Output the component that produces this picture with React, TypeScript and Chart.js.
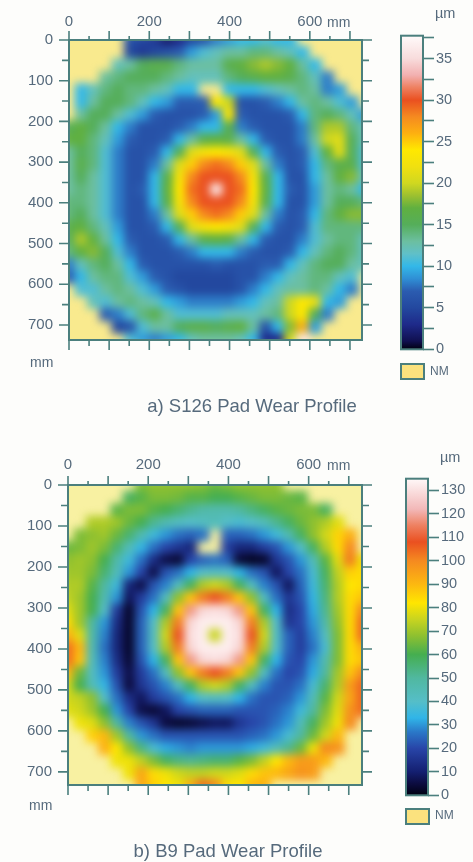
import React, { useEffect, useRef } from "react";
import { Chart, registerables } from "chart.js";

Chart.register(...registerables);

const _ = null;

// S126 wear in um per grid cell; null = not measured
const wearS126: (number | null)[][] = [
  [_,_,_,_,_,6,5,4,2,3,5,6,8,9,10,10,11,10,10,_,_,_,_,_,_],
  [_,_,_,_,_,5,4,5,6,7,9,11,12,13,13,14,14,13,12,10,_,_,_,_,_],
  [_,_,_,_,12,13,15,16,16,14,13,13,13,16,17,18,19,18,17,13,10,_,_,_,_],
  [_,_,_,13,14,15,15,15,14,13,12,12,12,14,15,16,17,17,16,14,12,8,_,_,_],
  [_,10,12,14,15,14,14,13,12,10,10,_,_,10,10,10,11,12,13,14,13,8,9,_,_],
  [_,10,13,15,15,14,12,10,9,7,7,7,24,20,6,6,7,8,10,13,14,13,11,9,_],
  [_,13,15,15,13,11,9,7,6,6,6,7,9,24,7,6,6,6,7,10,14,15,14,12,9],
  [15,17,15,13,10,8,6,6,6,7,8,10,10,16,8,7,6,6,6,8,14,19,19,14,12],
  [17,17,14,12,9,7,6,6,7,10,13,16,17,16,13,10,7,6,6,8,13,20,21,15,12],
  [13,15,14,11,8,6,6,7,10,15,21,23,24,23,21,15,10,7,6,7,11,17,21,15,11],
  [13,16,14,11,8,6,6,8,13,21,25,28,29,28,25,21,13,8,6,7,10,14,16,16,11],
  [13,15,13,11,8,6,6,10,16,23,28,30,30,30,28,23,16,10,6,6,10,13,17,18,12],
  [13,14,13,11,8,6,7,10,17,24,29,30,36,30,29,24,17,10,7,6,9,13,14,13,10],
  [14,14,13,11,8,6,6,10,16,23,28,30,30,30,28,23,16,10,6,6,9,13,15,15,14],
  [14,15,13,11,8,6,6,8,13,21,25,28,29,28,25,21,13,8,6,7,10,14,17,18,18],
  [16,17,14,12,9,6,6,7,10,15,21,23,24,23,21,15,10,7,6,7,11,14,14,14,14],
  [15,19,17,13,10,7,6,6,7,10,13,16,17,16,13,10,7,6,6,8,11,13,14,14,12],
  [14,17,18,15,11,8,6,6,6,7,8,10,10,10,8,7,6,6,7,10,12,14,15,14,12],
  [8,12,14,15,13,10,7,6,6,6,6,6,7,6,6,6,7,7,10,12,14,15,15,13,12],
  [7,10,13,14,14,11,9,7,6,5,5,5,5,5,6,6,8,10,12,13,14,14,12,11,_],
  [_,11,11,13,14,13,11,9,7,6,5,5,5,5,6,8,10,12,13,13,14,13,10,8,_],
  [_,_,12,11,13,14,13,12,10,9,8,8,8,8,9,10,12,13,20,24,22,10,9,_,_],
  [_,_,_,7,8,11,14,16,13,11,11,11,11,12,12,12,13,14,20,24,15,8,_,_,_],
  [_,_,_,_,5,6,11,13,13,15,16,16,15,16,17,13,6,10,18,26,9,_,_,_,_],
  [_,_,_,_,_,11,9,8,9,10,12,13,13,13,12,10,3,3,20,36,_,_,_,_,_],
];

// B9 wear in um per grid cell; null = not measured
const wearB9: (number | null)[][] = [
  [_,_,_,_,_,_,66,68,68,68,68,67,64,66,68,68,68,68,_,_,_,_,_,_,_],
  [_,_,_,_,_,58,62,66,66,65,62,62,60,60,62,64,66,66,64,62,_,_,_,_,_],
  [_,_,_,_,62,66,66,62,60,56,52,48,47,47,50,54,58,62,64,66,66,58,_,_,_],
  [_,_,72,72,70,64,60,52,46,42,40,42,44,40,38,40,44,52,58,64,68,72,78,_,_],
  [_,66,68,70,64,56,46,36,30,26,24,26,_,24,24,26,30,36,46,58,68,76,85,92,_],
  [64,66,70,66,56,44,34,26,20,16,12,_,_,18,12,12,18,22,30,40,58,72,84,100,_],
  [68,70,68,60,48,36,26,14,6,4,20,24,26,24,4,2,3,16,22,30,44,62,78,102,80],
  [70,70,66,56,44,30,20,6,22,26,33,40,42,40,33,26,22,8,20,26,38,58,74,86,84],
  [72,72,62,50,36,12,6,22,28,42,58,72,76,72,58,42,28,22,8,24,36,56,72,82,84],
  [74,70,60,46,30,8,18,26,42,68,88,102,108,102,88,68,42,26,16,22,34,54,72,84,88],
  [78,70,60,40,18,3,22,33,58,88,118,128,130,128,118,88,58,33,14,20,32,52,70,84,100],
  [84,70,50,30,14,3,24,40,72,102,128,133,133,133,128,102,72,40,16,20,30,48,68,84,104],
  [92,78,48,28,12,3,24,42,76,108,130,133,75,133,130,108,76,42,24,18,28,42,66,84,104],
  [104,90,46,26,12,3,24,40,72,102,128,133,133,133,128,102,72,40,24,18,26,38,66,84,92],
  [104,88,44,28,14,4,22,33,58,88,118,128,130,128,118,88,58,33,22,20,30,46,66,84,88],
  [90,64,42,30,18,6,18,26,42,68,88,102,108,102,88,68,42,26,20,22,32,50,70,88,100],
  [76,60,44,34,22,5,16,22,28,42,58,72,76,72,58,42,28,22,22,26,38,56,72,96,105],
  [76,74,68,40,26,14,8,18,22,26,33,40,42,40,33,26,22,22,24,30,44,62,76,94,105],
  [78,76,70,60,30,20,6,4,8,20,22,24,24,24,22,22,22,24,28,36,50,66,78,98,104],
  [_,80,78,68,50,28,22,16,5,3,4,6,8,8,16,20,22,26,30,44,58,70,80,100,_],
  [_,_,86,90,70,50,30,26,22,22,22,22,22,22,22,24,26,30,38,50,64,76,90,_,_],
  [_,_,_,92,82,68,54,38,32,30,28,30,30,30,30,32,36,44,52,64,80,100,98,_,_],
  [_,_,_,_,80,80,74,66,58,54,52,54,56,56,62,66,74,82,90,96,96,90,_,_,_],
  [_,_,_,_,_,80,94,84,80,76,74,74,76,76,78,84,88,90,94,98,96,_,_,_,_],
  [_,_,_,_,_,_,94,86,82,80,92,104,100,84,82,90,92,_,_,_,_,_,_,_,_],
];

const rampS126: [number, string][] = [
  [0, "#000010"], [1, "#101050"], [3, "#1e2a8a"], [5, "#23489f"], [7, "#2b5cb0"], [8.5, "#2f8fd5"],
  [10, "#33b8e8"], [11.5, "#60c0c8"], [13, "#6cbfa0"], [15, "#55ae5a"], [17, "#60b040"], [18.5, "#9cc030"],
  [20, "#d0d820"], [22, "#f0e010"], [24, "#ffe800"], [26, "#fdb010"], [28, "#f58a20"], [30, "#ea5020"],
  [31.5, "#ee8060"], [33, "#f2b0b0"], [35, "#f8dcdc"], [37.75, "#fffafa"],
];

const rampB9: [number, string][] = [
  [0, "#000010"], [5, "#0c0c40"], [10, "#141f70"], [20, "#2845a8"], [27, "#2a78c8"], [33, "#30b5e8"],
  [40, "#55bec8"], [50, "#50b8a0"], [60, "#45ae50"], [68, "#8ec030"], [75, "#c8d420"], [82, "#ffe600"],
  [90, "#fcb810"], [100, "#f58a20"], [108, "#ea5020"], [115, "#ee8060"], [122, "#f2b8b8"], [135, "#fff8f8"],
];

const FONT = "'Liberation Sans', Arial, sans-serif";
const INK = "#566a7c";
const FRAME = "#4b7f7d";

function hex(c: string) {
  return [1, 3, 5].map((i) => parseInt(c.slice(i, i + 2), 16));
}

function colourAt(ramp: [number, string][], v: number) {
  for (let i = 1; i < ramp.length; i++) {
    if (v <= ramp[i][0]) {
      const [a, ca] = ramp[i - 1];
      const [b, cb] = ramp[i];
      const t = (v - a) / (b - a);
      const p = hex(ca);
      const q = hex(cb);
      return `rgb(${p.map((n, k) => Math.round(n + (q[k] - n) * t)).join(",")})`;
    }
  }
  return ramp[ramp.length - 1][1];
}

const frameTicks = {
  id: "frameTicks",
  afterDraw(chart: any) {
    const { ctx, chartArea: a, scales } = chart;
    ctx.save();
    ctx.strokeStyle = FRAME;
    ctx.lineWidth = 2;
    ctx.strokeRect(a.left, a.top, a.right - a.left, a.bottom - a.top);
    ctx.lineWidth = 1.6;
    ctx.beginPath();
    for (let v = 0; v <= scales.x.max; v += 50) {
      const major = v % 100 === 0;
      const p = scales.x.getPixelForValue(v);
      ctx.moveTo(p, a.top);
      ctx.lineTo(p, a.top - (major ? 9 : 4));
      ctx.moveTo(p, a.bottom);
      ctx.lineTo(p, a.bottom + (major ? 10 : 6));
    }
    for (let v = 0; v <= scales.y.max; v += 50) {
      const major = v % 100 === 0;
      const p = scales.y.getPixelForValue(v);
      ctx.moveTo(a.left, p);
      ctx.lineTo(a.left - (major ? 10 : 7), p);
      ctx.moveTo(a.right, p);
      ctx.lineTo(a.right + (major ? 10 : 7), p);
    }
    ctx.stroke();
    ctx.restore();
  },
};

const barFrame = {
  id: "barFrame",
  afterDraw(chart: any) {
    const { ctx, chartArea: a } = chart;
    ctx.save();
    ctx.strokeStyle = FRAME;
    ctx.lineWidth = 2;
    ctx.strokeRect(a.left, a.top, a.right - a.left, a.bottom - a.top);
    ctx.restore();
  },
};

type PanelSpec = {
  grid: (number | null)[][];
  ramp: [number, string][];
  cellMm: number;
  left: number; right: number; top: number; bottom: number;
  xMax: number; yMax: number;
  nm: string;
  barLeft: number; barRight: number; barTop: number; barBottom: number;
  scaleMax: number; scaleStep: number; labelEvery: number;
  topLabelPad: number;
  title: string; titleX: number; titleY: number;
  topMmY: number; botMmX: number; botMmY: number;
  umX: number; umY: number;
  boxX: number; boxY: number; nmX: number; nmY: number;
};

const panels: PanelSpec[] = [
  {
    grid: wearS126, ramp: rampS126, cellMm: 30.67,
    left: 69, right: 362, top: 40, bottom: 340, xMax: 730, yMax: 737, nm: "#f9ea8e",
    barLeft: 401, barRight: 423, barTop: 32, barBottom: 350,
    scaleMax: 37.75, scaleStep: 2.5, labelEvery: 5, topLabelPad: 9,
    title: "a) S126 Pad Wear Profile", titleX: 252, titleY: 406,
    topMmY: 22, botMmX: 30, botMmY: 362, umX: 435, umY: 13,
    boxX: 400, boxY: 363, nmX: 430, nmY: 371,
  },
  {
    grid: wearB9, ramp: rampB9, cellMm: 30.6,
    left: 68, right: 362, top: 485, bottom: 785, xMax: 733, yMax: 732, nm: "#f8f1a2",
    barLeft: 406, barRight: 428, barTop: 475, barBottom: 796,
    scaleMax: 135, scaleStep: 10, labelEvery: 10, topLabelPad: 11,
    title: "b) B9 Pad Wear Profile", titleX: 228, titleY: 851,
    topMmY: 465, botMmX: 29, botMmY: 805, umX: 440, umY: 457,
    boxX: 405, boxY: 808, nmX: 435, nmY: 815,
  },
];

const PAGE_W = 473;
const PAGE_H = 862;
const BLEED = 14;
const MM_TICKS = [0, 100, 200, 300, 400, 500, 600, 700];

function Label({ x, y, text, size = 14, center = false }: { x: number; y: number; text: string; size?: number; center?: boolean }) {
  return (
    <div
      style={{
        position: "absolute",
        left: x,
        top: y,
        transform: center ? "translate(-50%,-50%)" : "translateY(-50%)",
        font: `${size}px ${FONT}`,
        color: INK,
        whiteSpace: "pre",
        filter: "blur(0.7px)",
        lineHeight: 1,
      }}
    >
      {text}
    </div>
  );
}

function Panel({ spec }: { spec: PanelSpec }) {
  const heatRef = useRef<HTMLCanvasElement>(null);
  const axesRef = useRef<HTMLCanvasElement>(null);
  const barRef = useRef<HTMLCanvasElement>(null);

  useEffect(() => {
    const points: { x: number; y: number; v: number }[] = [];
    spec.grid.forEach((row, r) =>
      row.forEach((v, c) => {
        if (v !== null) points.push({ x: c * spec.cellMm, y: r * spec.cellMm, v });
      })
    );

    const heat = new Chart(heatRef.current!, {
      type: "scatter",
      data: {
        datasets: [
          {
            data: points as any,
            clip: false as any,
            pointStyle: "rect",
            pointBorderWidth: 0,
            pointBackgroundColor: (c: any) => (c.raw ? colourAt(spec.ramp, c.raw.v) : "transparent"),
            pointRadius: (c: any) => {
              const s = c.chart.scales;
              const side = Math.max(
                Math.abs(s.x.getPixelForValue(spec.cellMm) - s.x.getPixelForValue(0)),
                Math.abs(s.y.getPixelForValue(spec.cellMm) - s.y.getPixelForValue(0))
              );
              return Number.isFinite(side) ? (side + 0.8) * Math.SQRT1_2 : 8;
            },
          } as any,
        ],
      },
      options: {
        animation: false,
        responsive: false,
        events: [],
        layout: { padding: BLEED },
        plugins: { legend: { display: false }, tooltip: { enabled: false } },
        scales: {
          x: { display: false, type: "linear", min: 0, max: spec.xMax },
          y: { display: false, type: "linear", min: 0, max: spec.yMax, reverse: true },
        },
      },
    });

    const tickFont = { family: FONT, size: 15 };
    const mmTicks = (s: any) => { s.ticks = MM_TICKS.map((value) => ({ value })); };
    const axes = new Chart(axesRef.current!, {
      type: "scatter",
      data: { datasets: [{ data: [] }] },
      options: {
        animation: false,
        responsive: false,
        events: [],
        layout: { padding: { left: 0, top: 0, right: PAGE_W - spec.right, bottom: PAGE_H - spec.bottom } },
        plugins: { legend: { display: false }, tooltip: { enabled: false } },
        scales: {
          x: {
            type: "linear",
            position: "top",
            min: 0,
            max: spec.xMax,
            afterBuildTicks: mmTicks,
            afterFit: (s: any) => { s.height = spec.top; },
            grid: { display: false, drawTicks: false },
            border: { display: false },
            ticks: {
              autoSkip: false,
              maxRotation: 0,
              padding: spec.topLabelPad,
              color: INK,
              font: tickFont,
              callback: (v: any) => (v % 200 === 0 ? String(v) : ""),
            },
          },
          y: {
            type: "linear",
            min: 0,
            max: spec.yMax,
            reverse: true,
            afterBuildTicks: mmTicks,
            afterFit: (s: any) => { s.width = spec.left; },
            grid: { display: false, drawTicks: false },
            border: { display: false },
            ticks: {
              autoSkip: false,
              padding: 16,
              color: INK,
              font: tickFont,
              callback: (v: any) => String(v),
            },
          },
        },
      },
      plugins: [frameTicks],
    });

    const bar = new Chart(barRef.current!, {
      type: "bar",
      data: {
        labels: ["wear"],
        datasets: [
          {
            data: [[0, spec.scaleMax]] as any,
            barPercentage: 1,
            categoryPercentage: 1,
            backgroundColor: (c: any) => {
              const y = c.chart.scales.y;
              const p0 = y ? y.getPixelForValue(0) : NaN;
              const p1 = y ? y.getPixelForValue(spec.scaleMax) : NaN;
              if (!Number.isFinite(p0) || !Number.isFinite(p1)) return "#888888";
              const g = c.chart.ctx.createLinearGradient(0, p0, 0, p1);
              spec.ramp.forEach(([v, col]) => g.addColorStop(Math.min(1, v / spec.scaleMax), col));
              return g;
            },
          } as any,
        ],
      },
      options: {
        animation: false,
        responsive: false,
        events: [],
        layout: { padding: { left: 6, top: 7, bottom: 10, right: 0 } },
        plugins: { legend: { display: false }, tooltip: { enabled: false } },
        scales: {
          x: { display: false },
          y: {
            position: "right",
            min: 0,
            max: spec.scaleMax,
            afterFit: (s: any) => { s.width = 473 - spec.barRight; },
            afterBuildTicks: (s: any) => {
              const t = [];
              for (let v = 0; v <= spec.scaleMax; v += spec.scaleStep) t.push({ value: v });
              s.ticks = t;
            },
            grid: { drawOnChartArea: false, tickLength: 11, tickColor: FRAME, tickWidth: 1.6 },
            border: { display: false },
            ticks: {
              autoSkip: false,
              padding: 2,
              color: INK,
              font: { family: FONT, size: 14.5 },
              callback: (v: any) => (v % spec.labelEvery === 0 ? String(v) : ""),
            },
          },
        },
      },
      plugins: [barFrame],
    });

    return () => {
      heat.destroy();
      axes.destroy();
      bar.destroy();
    };
  }, [spec]);

  const w = spec.right - spec.left;
  const h = spec.bottom - spec.top;
  return (
    <>
      <div
        style={{
          position: "absolute",
          left: spec.left,
          top: spec.top,
          width: w,
          height: h,
          overflow: "hidden",
          background: spec.nm,
        }}
      >
        <canvas
          ref={heatRef}
          width={w + 2 * BLEED}
          height={h + 2 * BLEED}
          style={{ position: "absolute", left: -BLEED, top: -BLEED, filter: "blur(4px)" }}
        />
      </div>
      <canvas
        ref={axesRef}
        width={PAGE_W}
        height={PAGE_H}
        style={{ position: "absolute", left: 0, top: 0, filter: "blur(0.7px)" }}
      />
      <canvas
        ref={barRef}
        width={473 - (spec.barLeft - 6)}
        height={spec.barBottom - spec.barTop + 17}
        style={{ position: "absolute", left: spec.barLeft - 6, top: spec.barTop - 7, filter: "blur(0.7px)" }}
      />
      <Label x={327} y={spec.topMmY} text="mm" />
      <Label x={spec.botMmX} y={spec.botMmY} text="mm" />
      <Label x={spec.umX} y={spec.umY} text="µm" size={14.5} />
      <div
        style={{
          position: "absolute",
          left: spec.boxX,
          top: spec.boxY,
          width: 21,
          height: 13,
          background: "#fbe27e",
          border: `2px solid ${FRAME}`,
          filter: "blur(0.6px)",
        }}
      />
      <Label x={spec.nmX} y={spec.nmY} text="NM" size={12} />
      <Label x={spec.titleX} y={spec.titleY} text={spec.title} size={18.5} center />
    </>
  );
}

export default function App() {
  return (
    <div
      style={{
        position: "absolute",
        left: 0,
        top: 0,
        width: PAGE_W,
        height: PAGE_H,
        background: "#fdfdfb",
        overflow: "hidden",
      }}
    >
      {panels.map((p) => (
        <Panel key={p.title} spec={p} />
      ))}
    </div>
  );
}
